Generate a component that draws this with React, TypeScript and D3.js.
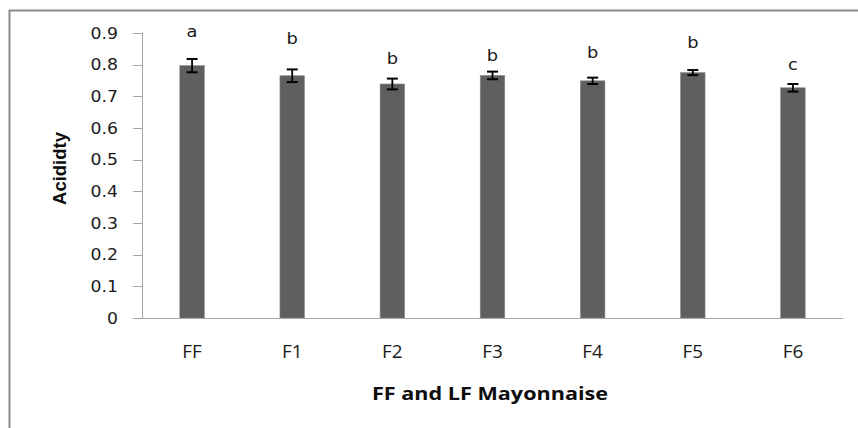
import React from "react";
import * as d3 from "d3";

const categories = ["FF", "F1", "F2", "F3", "F4", "F5", "F6"];
const values = [0.797, 0.765, 0.739, 0.766, 0.749, 0.775, 0.727];
const errors = [0.021, 0.02, 0.017, 0.012, 0.01, 0.008, 0.012];
const letters = ["a", "b", "b", "b", "b", "b", "c"];
const letterPos = [0.905, 0.884, 0.821, 0.83, 0.84, 0.871, 0.799];
const yTicks = [0, 0.1, 0.2, 0.3, 0.4, 0.5, 0.6, 0.7, 0.8, 0.9];

const W = 858;
const H = 428;
const left = 142;
const right = 843;
const top = 33;
const bottom = 318;

export default function App() {
  const x = d3
    .scaleBand<string>()
    .domain(categories)
    .range([left, right])
    .paddingInner(0.755)
    .paddingOuter(0.3775);
  const y = d3.scaleLinear().domain([0, 0.9]).range([bottom, top]);
  const bw = x.bandwidth();
  const sx = 1.15;

  return (
    <svg
      width={W}
      height={H}
      style={{ position: "absolute", left: 0, top: 0, background: "#fff" }}
    >
      <rect x={0} y={0} width={W} height={H} fill="#fff" />
      {/* outer border */}
      <line x1={9.5} y1={10} x2={9.5} y2={H} stroke="#8a8a8a" strokeWidth={2} />
      <line x1={9} y1={10.5} x2={W} y2={10.5} stroke="#8a8a8a" strokeWidth={2} />

      {/* y axis */}
      <line x1={left + 0.5} y1={top} x2={left + 0.5} y2={bottom} stroke="#a6a6a6" strokeWidth={1} />
      {yTicks.map((t) => (
        <g key={t}>
          <line
            x1={133}
            x2={left}
            y1={Math.round(y(t)) + 0.5}
            y2={Math.round(y(t)) + 0.5}
            stroke="#a6a6a6"
            strokeWidth={1}
          />
          <text
            transform={`translate(118,${y(t) + 5.5}) scale(${sx},1)`}
            textAnchor="end"
            fontFamily="DejaVu Sans"
            fontSize={15}
            fill="#1a1a1a"
          >
            {String(t)}
          </text>
        </g>
      ))}

      {/* bars */}
      {categories.map((c, i) => {
        const cx = (x(c) as number) + bw / 2;
        return (
          <g key={c}>
            <rect
              x={x(c)}
              y={y(values[i])}
              width={bw}
              height={bottom - y(values[i])}
              fill="#5f5f5f"
              stroke="#8c8c8c"
              strokeWidth={0.6}
            />
            <line
              x1={cx}
              x2={cx}
              y1={y(values[i] + errors[i])}
              y2={y(values[i] - errors[i])}
              stroke="#000"
              strokeWidth={1.8}
            />
            <line
              x1={cx - 5.5}
              x2={cx + 5.5}
              y1={y(values[i] + errors[i])}
              y2={y(values[i] + errors[i])}
              stroke="#000"
              strokeWidth={2}
            />
            <line
              x1={cx - 5.5}
              x2={cx + 5.5}
              y1={y(values[i] - errors[i])}
              y2={y(values[i] - errors[i])}
              stroke="#000"
              strokeWidth={2}
            />
            <text
              transform={`translate(${cx},${y(letterPos[i]) + 5.5}) scale(${sx},1)`}
              textAnchor="middle"
              fontFamily="DejaVu Sans"
              fontSize={15.5}
              fill="#1a1a1a"
            >
              {letters[i]}
            </text>
            <text
              transform={`translate(${cx},${358}) scale(1.05,1)`}
              textAnchor="middle"
              fontFamily="Open Sans"
              fontSize={18}
              fill="#1a1a1a"
            >
              {c}
            </text>
          </g>
        );
      })}

      {/* x axis */}
      <line x1={133} x2={right} y1={bottom + 0.5} y2={bottom + 0.5} stroke="#a6a6a6" strokeWidth={1} />

      {/* titles */}
      <text
        transform={`translate(${490},${400}) scale(1.2,1)`}
        textAnchor="middle"
        fontFamily="Open Sans"
        fontWeight="bold"
        fontSize={18}
        fill="#0d0d0d"
      >
        FF and LF Mayonnaise
      </text>
      <text
        transform={`translate(66,168.5) rotate(-90)`}
        textAnchor="middle"
        fontFamily="Liberation Sans"
        fontWeight="bold"
        fontSize={18.5}
        fill="#0d0d0d"
      >
        Acididty
      </text>
    </svg>
  );
}
